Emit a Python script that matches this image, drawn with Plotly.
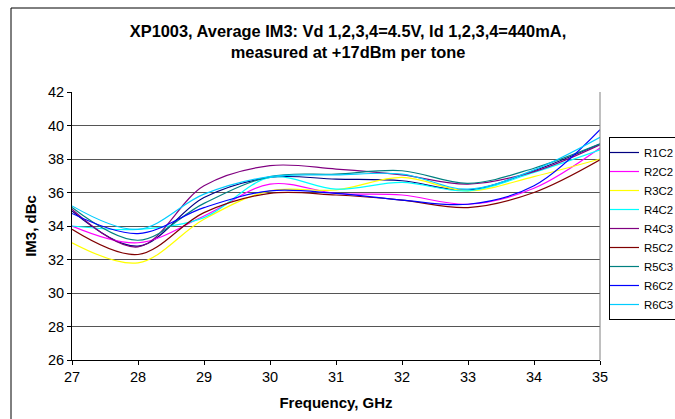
import plotly.graph_objects as go

freq = [27, 28, 29, 30, 31, 32, 33, 34, 35]

series_names = ["R1C2", "R2C2", "R3C2", "R4C2", "R4C3", "R5C2", "R5C3", "R6C2", "R6C3"]

r1c2 = [34.9, 32.8, 35.7, 36.9, 36.8, 36.7, 36.15, 37.3, 38.9]
r2c2 = [34.0, 33.0, 34.6, 36.5, 35.95, 35.85, 35.3, 36.25, 38.65]
r3c2 = [33.0, 31.8, 34.4, 36.1, 36.15, 36.9, 36.1, 36.95, 38.0]
r4c2 = [34.0, 33.8, 34.5, 36.9, 36.2, 36.6, 36.1, 37.2, 38.55]
r4c3 = [35.0, 32.75, 36.4, 37.6, 37.4, 37.05, 36.5, 37.25, 38.85]
r5c2 = [33.8, 32.3, 34.8, 35.95, 35.85, 35.55, 35.1, 36.0, 37.95]
r5c3 = [35.1, 33.15, 35.35, 36.95, 37.1, 37.3, 36.55, 37.45, 38.9]
r6c2 = [34.75, 33.55, 35.1, 36.1, 35.95, 35.55, 35.3, 36.4, 39.75]
r6c3 = [35.2, 33.8, 35.9, 36.95, 37.05, 37.1, 36.2, 37.35, 39.3]

values = [r1c2, r2c2, r3c2, r4c2, r4c3, r5c2, r5c3, r6c2, r6c3]
colors = ["#000080", "#FF00FF", "#FFFF00", "#00FFFF", "#800080",
          "#800000", "#008080", "#0000FF", "#00CCFF"]

y_ticks = [26, 28, 30, 32, 34, 36, 38, 40, 42]
x_ticks = [27, 28, 29, 30, 31, 32, 33, 34, 35]

title_text = ("<b>XP1003, Average IM3: Vd 1,2,3,4=4.5V, Id 1,2,3,4=440mA,<br>"
              "measured at +17dBm per tone</b>")

FONT = "Liberation Sans, Arial, sans-serif"

fig = go.Figure()
for name, vals, col in zip(series_names, values, colors):
    fig.add_trace(go.Scatter(
        x=freq, y=vals, name=name, mode="lines",
        line=dict(color=col, width=1.2, shape="spline", smoothing=1.0),
    ))

W, H = 675, 419
PL, PR, PT, PB = 72, 600, 92, 360          # plot area in screen pixels
pw, ph = PR - PL, PB - PT

def px_x(p):
    return (p - PL) / pw

def px_y(p):
    return (PB - p) / ph

fig.update_layout(
    width=W, height=H,
    margin=dict(l=PL, r=W - PR, t=PT, b=H - PB, pad=0, autoexpand=False),
    paper_bgcolor="white", plot_bgcolor="white",
    font=dict(family=FONT, size=14.5, color="black"),
    title=dict(text=title_text, x=348 / W, xanchor="center",
               y=1 - 36.5 / H, yanchor="middle",
               font=dict(family=FONT, size=16.4, color="black")),
    showlegend=True,
    legend=dict(x=px_x(609), y=px_y(137), xanchor="left", yanchor="top",
                bordercolor="black", borderwidth=1, bgcolor="white",
                font=dict(family=FONT, size=11.4, color="black"),
                tracegroupgap=0, itemwidth=30, indentation=-6),
    xaxis=dict(range=[27, 35], tickvals=x_ticks, ticktext=[str(v) for v in x_ticks],
               showgrid=False, zeroline=False, showline=True, linecolor="black",
               linewidth=1, ticks="outside", ticklen=4, tickcolor="black",
               tickfont=dict(size=14.5), fixedrange=True,
               title=dict(text="<b>Frequency, GHz</b>", font=dict(size=15), standoff=13)),
    yaxis=dict(range=[26, 42], tickvals=y_ticks, ticktext=[str(v) for v in y_ticks],
               showgrid=True, gridcolor="#555555", gridwidth=1,
               zeroline=False, showline=True, linecolor="black", linewidth=1,
               ticks="outside", ticklen=4, tickcolor="black",
               tickfont=dict(size=14.5), fixedrange=True,
               title=dict(text="<b>IM3, dBc</b>", font=dict(size=15), standoff=7)),
    shapes=[
        # right border of plot area
        dict(type="line", xref="paper", yref="paper", x0=1, x1=1, y0=0, y1=1,
             line=dict(color="#808080", width=1)),
        # outer chart frame: top and left edges (the rest lies outside the view)
        dict(type="line", xref="paper", yref="paper",
             x0=px_x(11), x1=px_x(720), y0=px_y(8), y1=px_y(8),
             line=dict(color="black", width=1), layer="above"),
        dict(type="line", xref="paper", yref="paper",
             x0=px_x(11), x1=px_x(11), y0=px_y(8), y1=px_y(460),
             line=dict(color="black", width=1), layer="above"),
    ],
)

fig.write_html(
    "out.html",
    config={"displayModeBar": False},
    post_script="document.body.style.margin='0';document.body.style.overflow='hidden';",
)
